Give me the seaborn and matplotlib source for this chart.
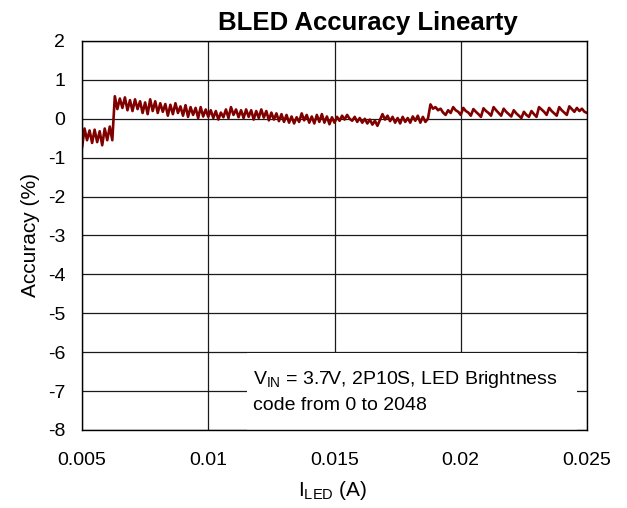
import numpy as np
import pandas as pd
import matplotlib
matplotlib.use("Agg")
import matplotlib.pyplot as plt
import seaborn as sns
from matplotlib.patches import Rectangle

# ---- data ----
current_start = 0.0050          # A
current_step = 0.0001           # A, sample spacing

acc_seg1 = [-0.75, -0.25, -0.55, -0.30, -0.62, -0.28, -0.60, -0.32, -0.68, -0.25,
            -0.55, -0.20, -0.55]
acc_seg2 = [0.58, 0.25, 0.52, 0.28, 0.55, 0.22, 0.48, 0.20, 0.50, 0.25,
            0.45, 0.15, 0.42, 0.12, 0.50, 0.20, 0.45, 0.15, 0.40, 0.18,
            0.38, 0.08, 0.36, 0.12, 0.40, 0.15, 0.32, 0.08, 0.35, 0.05,
            0.30, 0.10, 0.28, 0.02, 0.30, 0.06, 0.24, 0.05]
acc_seg3 = [0.22, 0.02, 0.20, -0.02, 0.16, 0.04, 0.24, 0.02, 0.30, 0.10,
            0.24, 0.04, 0.22, 0.02, 0.24, 0.05, 0.22, -0.02, 0.20, 0.02,
            0.24, 0.03, 0.20, -0.04, 0.16, -0.02, 0.14, -0.06, 0.12, -0.08,
            0.10, -0.10, 0.06, -0.12, 0.04, -0.08, 0.14, -0.04, 0.10, -0.10,
            0.06, -0.12, 0.10, -0.08, 0.12, -0.10, 0.06, -0.14, 0.04, -0.10]
acc_seg4 = [0.05, -0.05, 0.08, -0.02, 0.10, 0.00, -0.05, 0.05, -0.08, 0.02,
            -0.10, 0.00, -0.12, -0.02, -0.15, -0.05, -0.18, -0.03, 0.12, -0.02,
            0.08, -0.06, 0.05, -0.10, 0.02, -0.12, 0.05, -0.08, 0.02, -0.10,
            0.06, -0.05, 0.08, -0.10, 0.05, -0.08, 0.00]
acc_seg5 = [0.37, 0.26, 0.30, 0.22, 0.26, 0.16, 0.10, 0.22, 0.15, 0.30,
            0.22, 0.18, 0.10, 0.28, 0.20, 0.16, 0.08, 0.25, 0.18, 0.12,
            0.05, 0.27, 0.20, 0.15, 0.08, 0.30, 0.22, 0.15, 0.08, 0.26,
            0.18, 0.12, 0.06, 0.22, 0.14, 0.08, 0.02, 0.18, 0.10, 0.05,
            0.20, 0.12, 0.05, 0.30, 0.24, 0.18, 0.10, 0.28, 0.20, 0.14,
            0.08, 0.30, 0.22, 0.16, 0.10, 0.32, 0.25, 0.18, 0.28, 0.20,
            0.26, 0.18, 0.15]
accuracy = acc_seg1 + acc_seg2 + acc_seg3 + acc_seg4 + acc_seg5
current = [round(current_start + i * current_step, 5) for i in range(len(accuracy))]

x_ticks = [0.005, 0.01, 0.015, 0.02, 0.025]
x_tick_labels = ["0.005", "0.01", "0.015", "0.02", "0.025"]
y_ticks = [-8, -7, -6, -5, -4, -3, -2, -1, 0, 1, 2]
y_tick_labels = ["-8", "-7", "-6", "-5", "-4", "-3", "-2", "-1", "0", "1", "2"]

title = "BLED Accuracy Linearty"
note_line1 = r"V$_{\mathrm{IN}}$ = 3.7V, 2P10S, LED Brightness"
note_line2 = "code from 0 to 2048"

df = pd.DataFrame({"I_LED": current, "Accuracy": accuracy})

# ---- style ----
sns.set_style("white")
plt.rcParams["font.family"] = ["Liberation Sans", "DejaVu Sans"]
plt.rcParams["text.color"] = "black"
plt.rcParams["axes.labelcolor"] = "black"
plt.rcParams["mathtext.fontset"] = "custom"
plt.rcParams["mathtext.rm"] = "Liberation Sans"
plt.rcParams["mathtext.it"] = "Liberation Sans:italic"
plt.rcParams["mathtext.bf"] = "Liberation Sans:bold"

fig = plt.figure(figsize=(6.27, 5.08), dpi=100)
ax = fig.add_axes([82 / 627, 1 - 430 / 508, 505 / 627, 389 / 508])

sns.lineplot(data=df, x="I_LED", y="Accuracy", ax=ax, color="#800000",
             linewidth=1.9, estimator=None, sort=False, zorder=3)

ax.set_xlim(0.005, 0.025)
ax.set_ylim(-8, 2)
ax.set_xticks(x_ticks)
ax.set_xticklabels(x_tick_labels)
ax.set_yticks(y_ticks)
ax.set_yticklabels(y_tick_labels)
ax.tick_params(axis="both", length=0, labelsize=14, colors="black")
ax.tick_params(axis="y", pad=12)
ax.tick_params(axis="x", pad=16)
ax.set_axisbelow(True)
ax.grid(True, color="#1a1a1a", linewidth=0.9)
for s in ax.spines.values():
    s.set_color("black")
    s.set_linewidth(1.0)
    s.set_zorder(4)
ax.set_xlabel("")
ax.set_ylabel("")

# white note box hiding the grid
box_x0, box_x1 = 0.01152, 0.02459
ax.add_patch(Rectangle((box_x0, -8), box_x1 - box_x0, 1.98,
                       facecolor="white", edgecolor="none", zorder=1.5))
ax.text(0.01176, -6.82, note_line1, fontsize=14, ha="left", va="baseline",
        color="black", zorder=3.5)
ax.text(0.01176, -7.49, note_line2, fontsize=14, ha="left", va="baseline",
        color="black", zorder=3.5)

fig.text(368 / 627, 1 - 30 / 508, title, fontsize=18.5, fontweight="bold",
         ha="center", va="baseline", color="black")
fig.text(30 / 627, 1 - 235 / 508, "Accuracy (%)", fontsize=15, rotation=90,
         ha="center", va="center", color="black")
fig.text(333 / 627, 1 - 491 / 508, r"I$_{\mathrm{LED}}$ (A)", fontsize=15,
         ha="center", va="center", color="black")

fig.savefig("out.png", dpi=100, facecolor="white")
